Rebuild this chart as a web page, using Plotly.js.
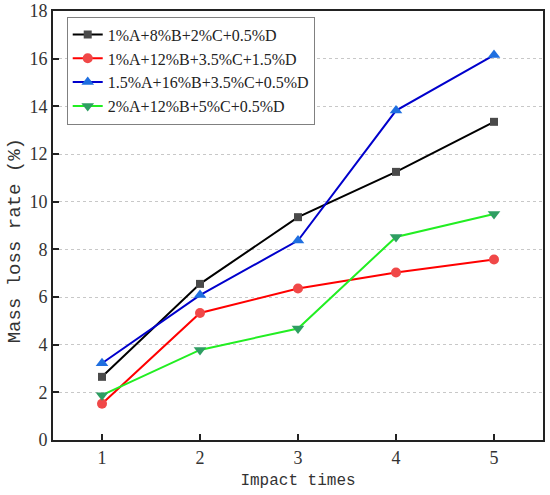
<!DOCTYPE html>
<html>
<head>
<meta charset="utf-8">
<script src="https://cdn.plot.ly/plotly-3.0.1.min.js"></script>
<style>html,body{margin:0;padding:0;background:#fff;}#chart{width:550px;height:495px;}</style>
</head>
<body>
<div id="chart"></div>
<script>
const impactTimes = [1, 2, 3, 4, 5];
const seriesNames = [
  "1%A+8%B+2%C+0.5%D",
  "1%A+12%B+3.5%C+1.5%D",
  "1.5%A+16%B+3.5%C+0.5%D",
  "2%A+12%B+5%C+0.5%D"
];
const blackSeries = [2.65, 6.55, 9.35, 11.25, 13.35];
const redSeries   = [1.52, 5.33, 6.36, 7.03, 7.57];
const blueSeries  = [3.22, 6.08, 8.37, 13.82, 16.15];
const greenSeries = [1.88, 3.78, 4.68, 8.52, 9.48];
const yTicks = [0, 2, 4, 6, 8, 10, 12, 14, 16, 18];
const xTitle = "Impact times";
const yTitle = "Mass loss rate (%)";

const SERIF = "Liberation Serif";
const MONO = "Liberation Mono";

const styles = [
  {line: "#000000", marker: "#4a4a4a", symbol: "square", size: 8},
  {line: "#ff0000", marker: "#f04848", symbol: "circle", size: 10},
  {line: "#0000cc", marker: "#1f6fe0", symbol: "triangle-up", size: 11},
  {line: "#22ee22", marker: "#2e9e62", symbol: "triangle-down", size: 11}
];
const allSeries = [blackSeries, redSeries, blueSeries, greenSeries];

const traces = allSeries.map((ys, i) => ({
  x: impactTimes,
  y: ys,
  name: seriesNames[i],
  type: "scatter",
  mode: "lines+markers",
  line: {color: styles[i].line, width: 2},
  marker: {color: styles[i].marker, symbol: styles[i].symbol, size: styles[i].size}
}));

const layout = {
  width: 550,
  height: 495,
  margin: {l: 53, r: 7, t: 11, b: 55},
  paper_bgcolor: "#fff",
  plot_bgcolor: "#fff",
  font: {family: SERIF},
  showlegend: true,
  legend: {
    x: 0.028, y: 0.987, xanchor: "left", yanchor: "top",
    bgcolor: "#fff", bordercolor: "#808080", borderwidth: 1,
    font: {family: SERIF, size: 16, color: "#222"},
    tracegroupgap: 0, itemwidth: 30
  },
  xaxis: {
    range: [0.5, 5.5],
    tickvals: impactTimes,
    ticktext: impactTimes.map(String),
    ticks: "inside", ticklen: 6, tickwidth: 2, tickcolor: "#222",
    showline: true, linecolor: "#222", linewidth: 2, mirror: true,
    showgrid: false, zeroline: false,
    tickfont: {family: SERIF, size: 18, color: "#333"},
    title: {text: xTitle, font: {family: MONO, size: 16, color: "#333"}, standoff: 7}
  },
  yaxis: {
    range: [0, 18],
    tickvals: yTicks,
    ticktext: yTicks.map(String),
    ticks: "inside", ticklen: 6, tickwidth: 2, tickcolor: "#222",
    showline: true, linecolor: "#222", linewidth: 2, mirror: true,
    showgrid: true, gridcolor: "#c8c8c8", griddash: "dot", gridwidth: 1,
    zeroline: false,
    tickfont: {family: SERIF, size: 18, color: "#333"}
  },
  annotations: [{
    text: yTitle,
    xref: "paper", yref: "paper",
    x: -0.078, y: 0.465,
    xanchor: "center", yanchor: "middle",
    textangle: -90,
    showarrow: false,
    font: {family: MONO, size: 19, color: "#333"}
  }]
};

Plotly.newPlot("chart", traces, layout, {displayModeBar: false, staticPlot: true});
</script>
</body>
</html>
